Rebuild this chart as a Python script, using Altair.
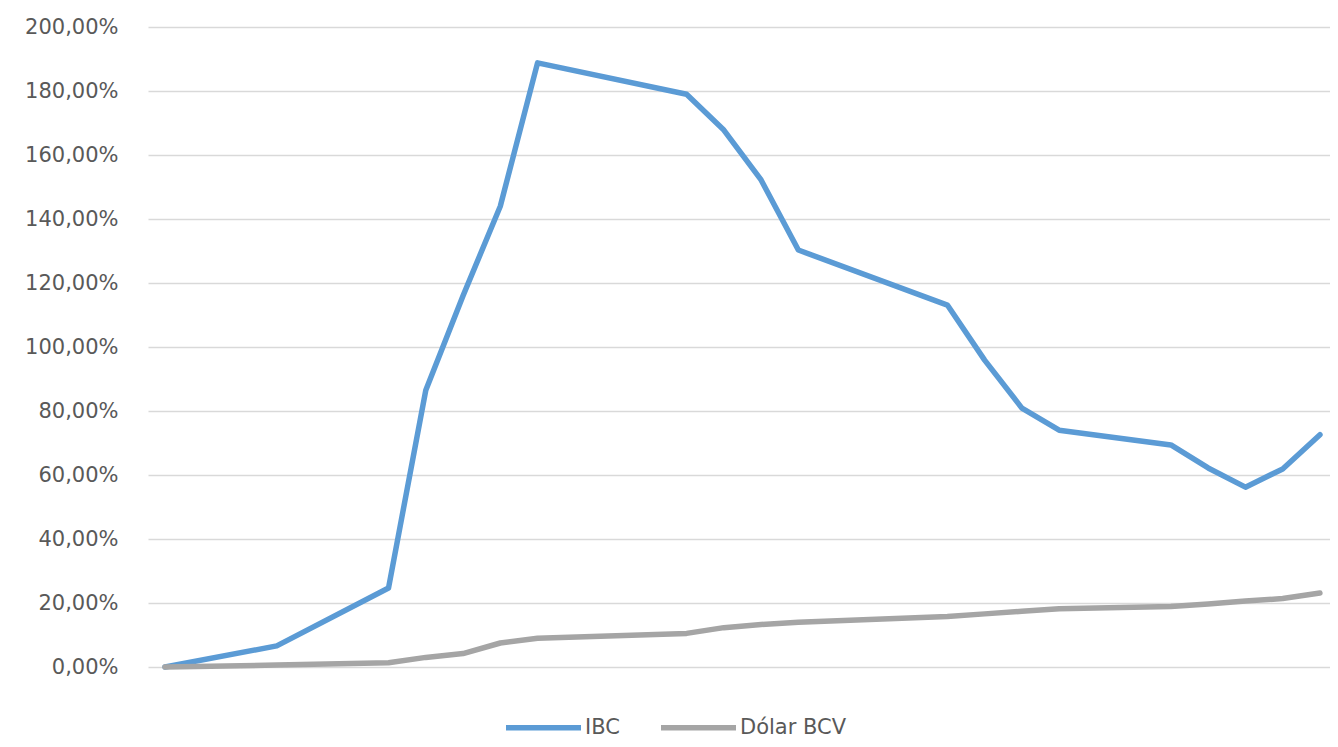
import altair as alt
import pandas as pd

# positions along the (unlabelled) time axis
idx = [0, 3, 6, 7, 8, 9, 10, 14, 15, 16, 17, 21, 22, 23, 24, 27, 28, 29, 30, 31]
# variation in percent
ibc = [0.0, 6.6, 24.7, 86.5, 116.0, 144.0, 188.8, 179.0, 167.8, 152.2, 130.3,
       113.1, 95.9, 80.9, 74.0, 69.4, 62.2, 56.2, 61.9, 72.6]
bcv = [0.0, 0.6, 1.3, 3.0, 4.2, 7.5, 9.0, 10.5, 12.3, 13.3, 14.0,
       15.8, 16.6, 17.4, 18.2, 18.9, 19.7, 20.6, 21.4, 23.1]
series = ["IBC", "Dólar BCV"]
colors = ["#5B9BD5", "#A5A5A5"]
y_ticks = [0, 20, 40, 60, 80, 100, 120, 140, 160, 180, 200]

rows = []
for s, vals in zip(series, [ibc, bcv]):
    for i, v in zip(idx, vals):
        rows.append({"t": i, "v": v, "s": s})
df = pd.DataFrame(rows)

FONT = "DejaVu Sans"

chart = alt.Chart(df).mark_line(
    strokeWidth=5.5, strokeCap="round", strokeJoin="round"
).encode(
    x=alt.X("t:Q", axis=None, scale=alt.Scale(domain=[-0.456, 31.27], nice=False, zero=False)),
    y=alt.Y("v:Q", scale=alt.Scale(domain=[0, 200], nice=False),
            axis=alt.Axis(values=y_ticks, title=None, domain=False, ticks=False,
                          labelExpr="replace(format(datum.value, '.2f'), '.', ',') + '%'",
                          labelFont=FONT, labelFontSize=21, labelColor="#595959",
                          labelPadding=30, gridColor="#D9D9D9", gridWidth=1.3)),
    color=alt.Color("s:N", sort=series,
                    scale=alt.Scale(domain=series, range=colors),
                    legend=alt.Legend(title=None, orient="none", direction="horizontal",
                                      legendX=355, legendY=660,
                                      symbolType="stroke", symbolSize=5625,
                                      symbolStrokeWidth=5.5, labelFont=FONT,
                                      labelFontSize=21, labelColor="#595959",
                                      labelOffset=1, columnPadding=30)),
    order="t:Q",
).properties(
    width=1182, height=640,
    background="white",
    autosize=alt.AutoSizeParams(type="none"),
    padding={"left": 140, "top": 19, "right": 0, "bottom": 72},
).configure_view(stroke=None)

chart.save("out.html", embed_options={"renderer": "svg", "actions": False})
